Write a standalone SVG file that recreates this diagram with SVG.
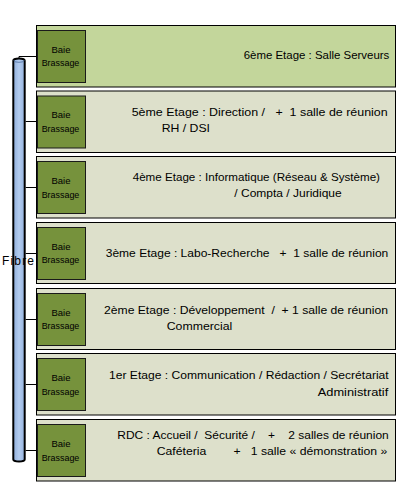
<svg xmlns="http://www.w3.org/2000/svg" width="414" height="500" viewBox="0 0 414 500">
<style>
.floor{stroke:#000;stroke-width:1}
.f1{fill:#C3D69B}
.fo{fill:#DDE0CB}
.baie{fill:#76923C;stroke:#1a1a1a;stroke-width:1}
.bt{font-family:"Liberation Sans",Arial,sans-serif;font-size:9px;fill:#000;text-anchor:middle}
.t{font-family:"Liberation Sans",Arial,sans-serif;font-size:10.5px;fill:#000;white-space:pre}
.conn{stroke:#000;stroke-width:1;fill:none}
.fib{font-family:"Liberation Sans",Arial,sans-serif;font-size:12px;fill:#000}
</style>
<defs>
<linearGradient id="cyl" x1="0" y1="0" x2="1" y2="0">
<stop offset="0" stop-color="#8FAEDC"/>
<stop offset="0.5" stop-color="#B3CCEF"/>
<stop offset="1" stop-color="#95B3DE"/>
</linearGradient>
</defs>
<rect width="414" height="500" fill="#fff"/>

<g id="floor-6">
<rect class="floor f1" x="36.5" y="25.5" width="359" height="61.5"/>
<rect class="baie" x="37.5" y="30.5" width="48" height="52"/>
<text class="bt" x="61" y="52.5" textLength="19" lengthAdjust="spacingAndGlyphs">Baie</text>
<text class="bt" x="60.5" y="66" textLength="37.6" lengthAdjust="spacingAndGlyphs">Brassage</text>
<text class="t" x="243.7" y="59.3" textLength="145.6" lengthAdjust="spacingAndGlyphs">6ème Etage : Salle Serveurs</text>
</g>

<g id="floor-5">
<rect class="floor fo" x="36.5" y="91" width="359" height="61.5"/>
<rect class="baie" x="37.5" y="96" width="48" height="52"/>
<text class="bt" x="61" y="118" textLength="19" lengthAdjust="spacingAndGlyphs">Baie</text>
<text class="bt" x="60.5" y="131.5" textLength="37.6" lengthAdjust="spacingAndGlyphs">Brassage</text>
<text class="t" x="131.7" y="115.7" textLength="256" lengthAdjust="spacingAndGlyphs" xml:space="preserve">5ème Etage : Direction /   +  1 salle de réunion</text>
<text class="t" x="161.7" y="132.3" textLength="48.3" lengthAdjust="spacingAndGlyphs">RH / DSI</text>
</g>

<g id="floor-4">
<rect class="floor fo" x="36.5" y="156.5" width="359" height="61.5"/>
<rect class="baie" x="37.5" y="161.5" width="48" height="52"/>
<text class="bt" x="61" y="184" textLength="19" lengthAdjust="spacingAndGlyphs">Baie</text>
<text class="bt" x="60.5" y="197.5" textLength="37.6" lengthAdjust="spacingAndGlyphs">Brassage</text>
<text class="t" x="132.7" y="180.7" textLength="247.3" lengthAdjust="spacingAndGlyphs">4ème Etage : Informatique (Réseau &amp; Système)</text>
<text class="t" x="234.3" y="196.7" textLength="107.4" lengthAdjust="spacingAndGlyphs">/ Compta / Juridique</text>
</g>

<g id="floor-3">
<rect class="floor fo" x="36.5" y="222.5" width="359" height="61"/>
<rect class="baie" x="37.5" y="227.5" width="48" height="52"/>
<text class="bt" x="61" y="249.5" textLength="19" lengthAdjust="spacingAndGlyphs">Baie</text>
<text class="bt" x="60.5" y="263" textLength="37.6" lengthAdjust="spacingAndGlyphs">Brassage</text>
<text class="t" x="105.7" y="256.7" textLength="282.6" lengthAdjust="spacingAndGlyphs" xml:space="preserve">3ème Etage : Labo-Recherche   +  1 salle de réunion</text>
</g>

<g id="floor-2">
<rect class="floor fo" x="36.5" y="288.5" width="359" height="61"/>
<rect class="baie" x="37.5" y="293.5" width="48" height="52"/>
<text class="bt" x="61" y="315.5" textLength="19" lengthAdjust="spacingAndGlyphs">Baie</text>
<text class="bt" x="60.5" y="329" textLength="37.6" lengthAdjust="spacingAndGlyphs">Brassage</text>
<text class="t" x="104" y="314" textLength="284" lengthAdjust="spacingAndGlyphs" xml:space="preserve">2ème Etage : Développement  /  + 1 salle de réunion</text>
<text class="t" x="166.7" y="330" textLength="65.6" lengthAdjust="spacingAndGlyphs">Commercial</text>
</g>

<g id="floor-1">
<rect class="floor fo" x="36.5" y="353.5" width="359" height="61.5"/>
<rect class="baie" x="37.5" y="358.5" width="48" height="52"/>
<text class="bt" x="61" y="381" textLength="19" lengthAdjust="spacingAndGlyphs">Baie</text>
<text class="bt" x="60.5" y="394.5" textLength="37.6" lengthAdjust="spacingAndGlyphs">Brassage</text>
<text class="t" x="109" y="379" textLength="279.7" lengthAdjust="spacingAndGlyphs">1er Etage : Communication / Rédaction / Secrétariat</text>
<text class="t" x="317.7" y="396" textLength="70.6" lengthAdjust="spacingAndGlyphs">Administratif</text>
</g>

<g id="floor-rdc">
<rect class="floor fo" x="36.5" y="419.5" width="359" height="61.5"/>
<rect class="baie" x="37.5" y="424.5" width="48" height="52"/>
<text class="bt" x="61" y="447" textLength="19" lengthAdjust="spacingAndGlyphs">Baie</text>
<text class="bt" x="60.5" y="460.5" textLength="37.6" lengthAdjust="spacingAndGlyphs">Brassage</text>
<text class="t" x="117.3" y="439" textLength="271.4" lengthAdjust="spacingAndGlyphs" xml:space="preserve">RDC : Accueil /  Sécurité /    +    2 salles de réunion</text>
<text class="t" x="156.7" y="454.5" textLength="230.6" lengthAdjust="spacingAndGlyphs" xml:space="preserve">Caféteria        +   1 salle « démonstration »</text>
</g>

<g id="fibre">
<path d="M13.3,60.5 A5.7,2 0 0 1 24.7,60.5 L24.7,459.5 A5.7,2 0 0 1 13.3,459.5 Z" fill="url(#cyl)" stroke="#000" stroke-width="2"/>
<path d="M13.8,60.5 A5.2,1.8 0 0 0 24.2,60.5" fill="none" stroke="#4F6E9E" stroke-width="0.8"/>
<text class="fib" x="2" y="265" textLength="32" lengthAdjust="spacing">Fibre</text>
</g>

<g id="connectors">
<polyline class="conn" points="19,59 19,56.5 37,56.5"/>
<line class="conn" x1="25.7" y1="121.5" x2="37" y2="121.5"/>
<line class="conn" x1="25.7" y1="187.5" x2="37" y2="187.5"/>
<line class="conn" x1="25.7" y1="253.5" x2="37" y2="253.5"/>
<line class="conn" x1="25.7" y1="319.5" x2="37" y2="319.5"/>
<line class="conn" x1="25.7" y1="384.5" x2="37" y2="384.5"/>
<line class="conn" x1="25.7" y1="450.5" x2="37" y2="450.5"/>
</g>
</svg>
